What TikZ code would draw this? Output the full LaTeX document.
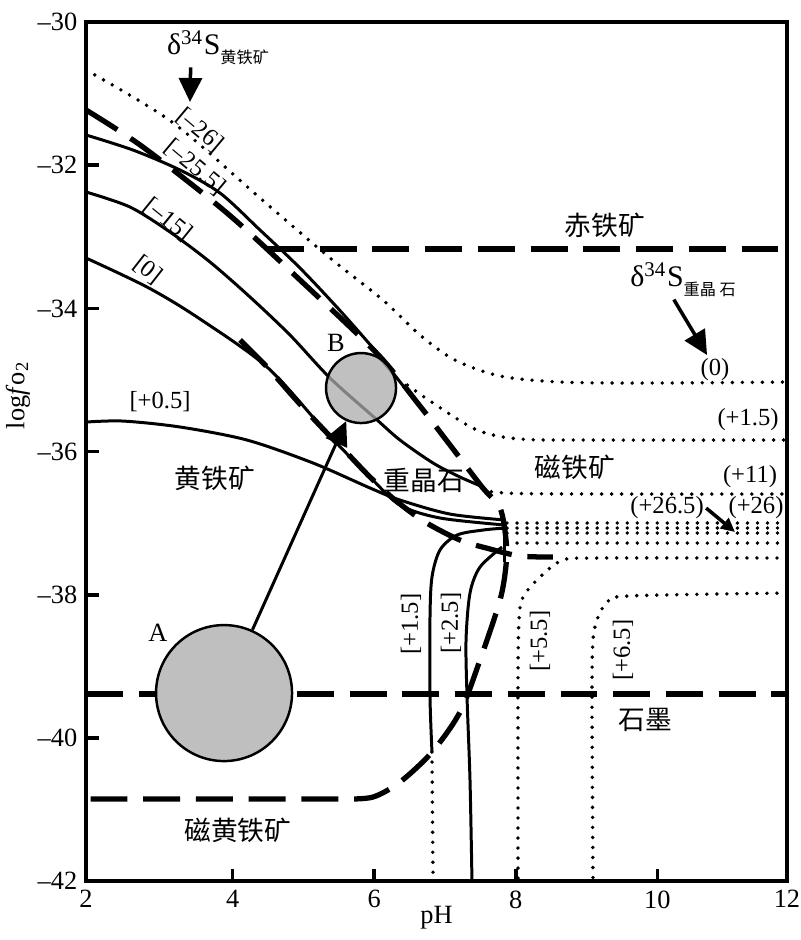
\documentclass[tikz,border=0pt]{standalone}
\usepackage{fontspec}
\setmainfont{Liberation Serif}
\newfontfamily\cjk{Noto Sans CJK SC}
\usetikzlibrary{arrows.meta}

\begin{document}
\begin{tikzpicture}[x=0.708cm, y=0.716cm,
		frame/.style={line width=1.2pt},
		contour/.style={line width=0.85pt},
		phase/.style={line width=1.5pt, dash pattern=on 10.5pt off 4.5pt},
		sulfate/.style={line width=1.1pt, line cap=round, dash pattern=on 0pt off 2.85pt},
		num/.style={font=\fontsize{7.5}{9}\selectfont, inner sep=1pt},
		val/.style={font=\fontsize{7}{8}\selectfont, inner sep=0.5pt},
		mineral/.style={font=\cjk\fontsize{7.6}{8}\selectfont, inner sep=0.5pt},
		delta/.style={font=\fontsize{8.5}{10}\selectfont, inner sep=0.5pt},
		pointer/.style={line width=1pt, -{Triangle[length=0.24cm, width=0.23cm]}},
		sample/.style={draw, circle, fill=black!25, inner sep=0pt, line width=0.7pt}]
	\useasboundingbox (0.7147,-42.821) rectangle (12.014,-29.693);

	\draw[phase] (4.486,-33.17) -- (11.83,-33.17);
	\draw[phase] (1.93,-39.385) -- (11.83,-39.385);
	\draw[phase] plot[smooth, tension=0.5] coordinates {(1.93,-31.229) (2.734,-31.746) (3.921,-32.668) (4.952,-33.603) (6.04,-34.63) (6.62,-35.33) (7.071,-35.908) (7.523,-36.494) (7.777,-36.788) (7.862,-37.235) (7.862,-37.584) (7.777,-38.073) (7.494,-38.911) (7.212,-39.637) (6.816,-40.196) (6.364,-40.615) (5.983,-40.824) (5.588,-40.852)} -- (1.93,-40.852);
	\draw[phase] plot[smooth, tension=0.5] coordinates {(4.105,-34.441) (4.486,-34.818) (4.924,-35.307) (5.333,-35.740) (5.616,-36.020) (5.941,-36.355) (6.294,-36.676) (6.718,-36.983) (7.212,-37.235) (7.636,-37.360) (8.059,-37.458) (8.525,-37.472)};

	\draw[contour] plot[smooth, tension=0.5] coordinates {(1.93,-31.578) (2.593,-31.788) (3.257,-32.067) (3.822,-32.388) (4.387,-32.905) (4.952,-33.436) (5.517,-34.030) (6.04,-34.62) (6.40,-35.07) (6.56,-35.25)};
	\draw[contour] plot[smooth, tension=0.5] coordinates {(1.93,-32.374) (2.551,-32.584) (3.116,-32.933) (3.681,-33.352) (4.246,-33.841) (4.811,-34.372) (5.376,-34.972) (6.011,-35.531) (6.364,-35.838) (6.831,-36.159) (7.212,-36.355) (7.537,-36.494)};
	\draw[contour] plot[smooth, tension=0.5] coordinates {(1.93,-33.296) (2.791,-33.701) (3.497,-34.120) (4.486,-34.818) (5.333,-35.740) (5.941,-36.355) (6.364,-36.746) (6.929,-36.927) (7.847,-37.025)};
	\draw[contour] plot[smooth, tension=0.5] coordinates {(1.93,-35.587) (2.452,-35.573) (3.257,-35.656) (4.203,-35.838) (5.136,-36.159) (5.941,-36.508) (6.364,-36.676) (7.071,-36.872) (7.847,-36.955)};
	\draw[contour] (7.847,-36.955) -- (7.847,-37.542);
	\draw[contour] plot[smooth, tension=0.5] coordinates {(7.847,-37.067) (7.537,-37.095) (7.169,-37.165) (6.929,-37.374) (6.816,-37.751) (6.788,-38.310) (6.788,-39.427) (6.816,-40.196)};
	\draw[contour] plot[smooth, tension=0.5] coordinates {(7.805,-37.332) (7.494,-37.612) (7.353,-37.975) (7.297,-38.631) (7.311,-39.427) (7.353,-40.587) (7.381,-42)};

	\draw[sulfate] plot[smooth, tension=0.5] coordinates {(1.93,-30.670) (3.144,-31.397) (4.387,-32.458) (5.376,-33.296) (6.124,-33.883) (6.647,-34.372) (7.141,-34.721) (7.777,-34.944) (8.624,-35.028) (9.895,-35.042) (11.83,-35.028)};
	\draw[sulfate] plot[smooth, tension=0.5] coordinates {(6.47,-35.070) (6.831,-35.321) (7.452,-35.698) (8.059,-35.824) (9.189,-35.838) (11.83,-35.838)};
	\draw[sulfate] plot[smooth, tension=0.5] coordinates {(7.537,-36.508) (8.06,-36.585) (11.83,-36.592)};
	\foreach \v in {-36.997,-37.067,-37.137,-37.277}
		\draw[sulfate] (7.876,\v) -- (11.83,\v);
	\draw[sulfate] plot[smooth, tension=0.5] coordinates {(11.83,-37.486) (9.189,-37.486) (8.667,-37.514) (8.342,-37.751) (8.102,-38.031) (8.045,-38.352) (8.031,-39.190) (8.031,-42)};
	\draw[sulfate] plot[smooth, tension=0.5] coordinates {(11.83,-37.975) (9.571,-38.017) (9.288,-38.115) (9.161,-38.310) (9.090,-38.631) (9.076,-39.469) (9.090,-42)};
	\draw[sulfate] (6.816,-40.196) -- (6.831,-42);

	\node[sample, minimum size=1.36cm] (A) at (3.879,-39.372) {};
	\node[sample, minimum size=0.70cm, fill=black!33, fill opacity=0.75] (B) at (5.814,-35.112) {};
	\draw[pointer, line width=0.85pt] (A) -- (B);
	\node[num] (labA) at (2.946,-38.534) {A};
	\node[num] (labB) at (5.460,-34.483) {B};

	\node[delta] (dpyrite) at (3.794,-30.36) {δ\textsuperscript{34}S\raisebox{-2.6pt}{\cjk\fontsize{4.6}{5}\selectfont 黄铁矿}};
	\coordinate (pytip) at (3.398,-31.117);
	\draw[pointer] ([xshift=0.26cm]dpyrite.south west) -- (pytip);
	\node[delta] (dbarite) at (10.362,-33.603) {δ\textsuperscript{34}S\raisebox{-2.6pt}{\cjk\fontsize{4.6}{5}\selectfont 重晶 石}};
	\coordinate (batip) at (10.701,-34.651);
	\draw[pointer] ([xshift=0.46cm]dbarite.south west) -- (batip);

	\node[val, rotate=-40] (p26) at (3.540,-31.508) {[\textendash26]};
	\node[val, rotate=-40] (p255) at (3.469,-32.025) {[\textendash25.5]};
	\node[val, rotate=-39] (p15) at (3.088,-32.765) {[\textendash15]};
	\node[val, rotate=-38] (p0) at (2.805,-33.464) {[0]};
	\node[val] (p05) at (2.975,-35.307) {[+0.5]};
	\node[val, rotate=90] (p15b) at (6.520,-38.408) {[+1.5]};
	\node[val, rotate=90] (p25) at (7.085,-38.394) {[+2.5]};
	\node[val, rotate=90] (p55) at (8.342,-38.645) {[+5.5]};
	\node[val, rotate=90] (p65) at (9.514,-38.771) {[+6.5]};

	\node[val] (b0) at (10.814,-34.860) {(0)};
	\node[val] (b15) at (11.280,-35.559) {(+1.5)};
	\node[val] (b11) at (11.308,-36.355) {(+11)};
	\node[val] (b265) at (10.136,-36.788) {(+26.5)};
	\node[val] (b26) at (11.393,-36.788) {(+26)};
	\coordinate (b26tip) at (11.096,-37.123);
	\draw[line width=1pt, -{Triangle[length=0.14cm, width=0.13cm]}] (b265.east) -- (b26tip);

	\node[mineral] (hematite) at (9.260,-32.835) {赤铁矿};
	\node[mineral] (magnetite) at (8.836,-36.215) {磁铁矿};
	\node[mineral] (pyrite) at (3.751,-36.369) {黄铁矿};
	\node[mineral] (barite) at (6.703,-36.397) {重晶石};
	\node[mineral] (graphite) at (9.825,-39.749) {石墨};
	\node[mineral] (pyrrhotite) at (4.076,-41.285) {磁黄铁矿};

	\foreach \v in {-32,-34,...,-40}
		\draw[line width=1pt] (1.93,\v) -- ++(0.13cm,0);
	\foreach \v in {30,32,...,42}
		\node[num, anchor=east] (ytick\v) at (1.865,-\v) {\textendash\v};
	\foreach \p in {4,6,8,10}
		\draw[line width=1pt] (\p,-42) -- ++(0,0.12cm);
	\foreach \p/\t in {1.93/2,4/4,6/6,8/8,10/10,11.83/12}
		\node[num, anchor=north] (xtick\t) at (\p,-42.07) {\t};
	\node[num] (xlabel) at (6.88,-42.514) {pH};
	\node[num, rotate=90] (ylabel) at (0.969,-35.209) {log\textit{f}o\textsubscript{2}};
	\draw[frame] (1.93,-42) rectangle (11.83,-30);
\end{tikzpicture}
\end{document}
